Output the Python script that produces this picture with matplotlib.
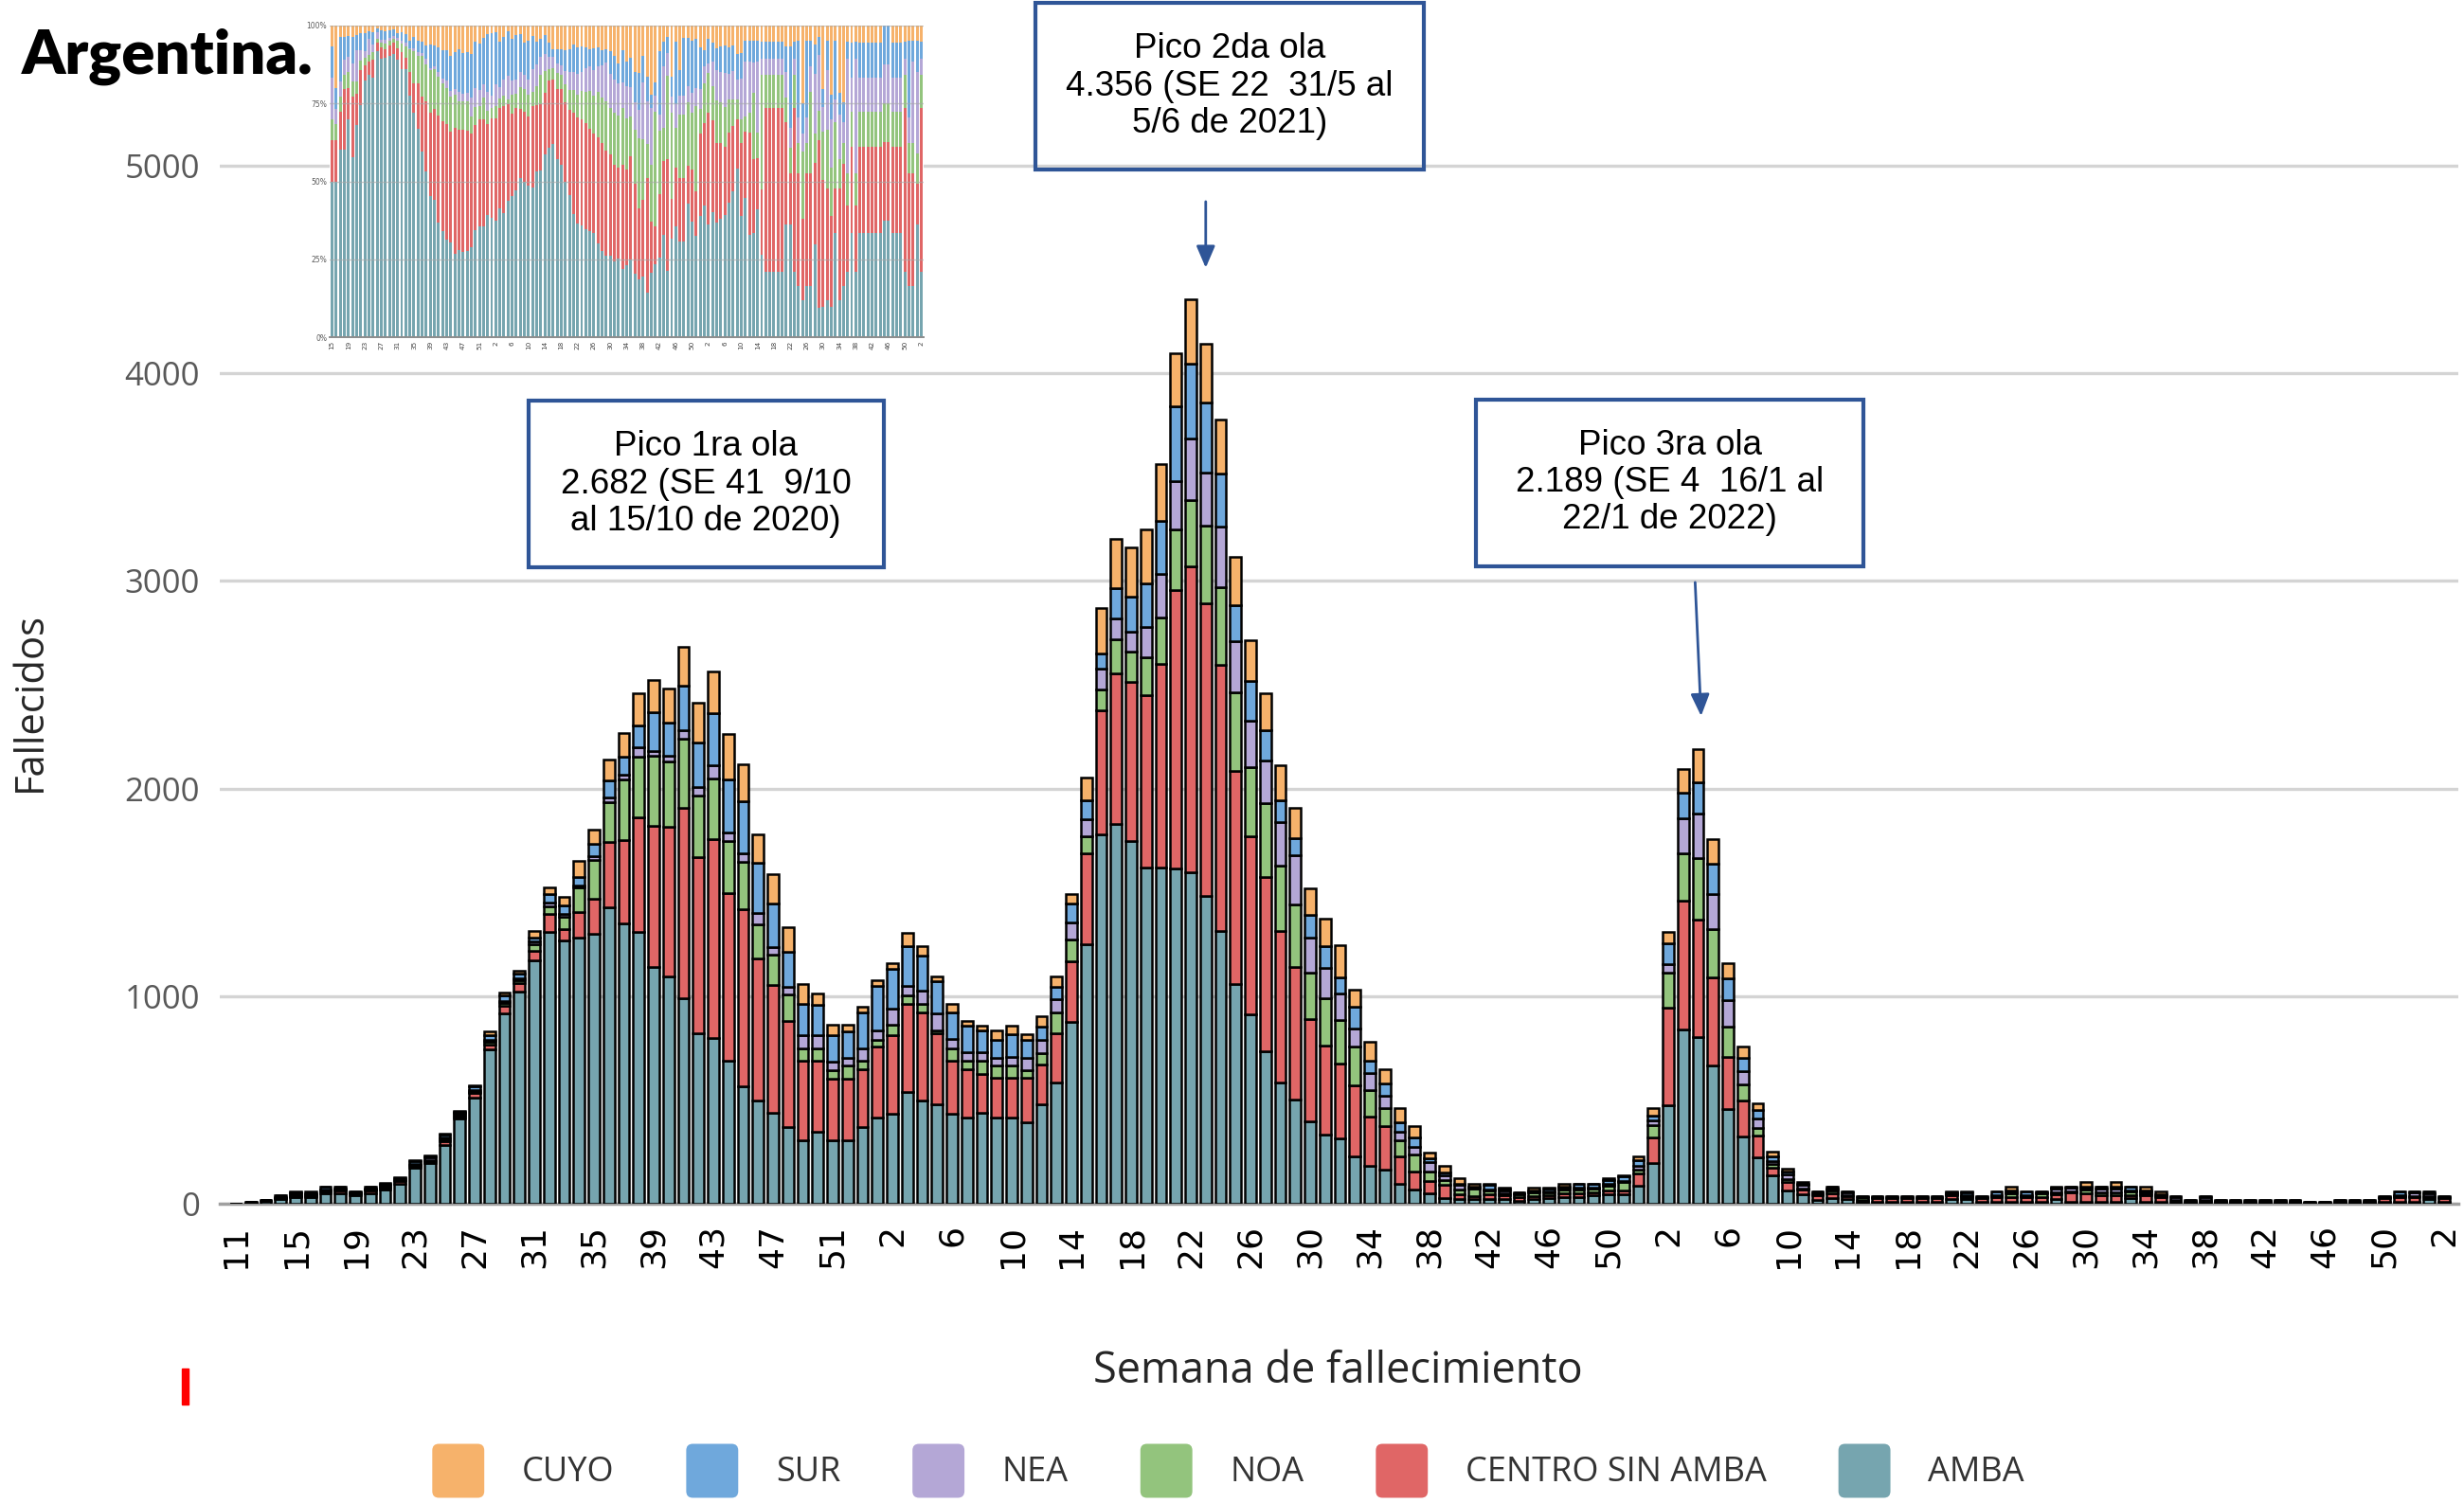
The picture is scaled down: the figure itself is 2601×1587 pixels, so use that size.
import matplotlib
matplotlib.use('Agg')
import matplotlib.pyplot as plt
from matplotlib.patches import Rectangle, Patch, FancyBboxPatch
from matplotlib.legend_handler import HandlerPatch
import numpy as np

# ---------------- categories (epidemiological weeks) ----------------
weeks = ([str(w) for w in range(11, 54)] +      # 2020: SE 11-53
         [str(w) for w in range(1, 53)] +       # 2021: SE 1-52
         [str(w) for w in range(1, 53)] +       # 2022: SE 1-52
         ['1', '2'])                            # 2023: SE 1-2

# ---------------- weekly deaths by region ----------------
amba = [2, 6, 12, 22, 30, 30, 50, 50, 42, 48, 68, 94, 173, 196, 282, 409, 512, 744, 917, 1021,
        1171, 1310, 1270, 1281, 1300, 1429, 1350, 1310, 1140, 1095, 990, 820, 800, 690, 565, 498, 436, 368, 305, 347,
        306, 306, 370,
        413, 434, 540, 496, 479, 435, 415, 436, 416, 416, 393, 480, 584, 876, 1250, 1780, 1830, 1745, 1620, 1620,
        1615, 1595, 1484, 1312, 1060, 911, 736, 585, 500, 396, 333, 315, 226, 181, 162, 94, 70, 48, 26, 25,
        23, 25, 25, 12, 25, 28, 30, 30, 42, 45, 45, 88,
        195, 475, 838, 805, 666, 455, 325, 225, 135, 66, 46, 20, 28, 25, 10, 8, 8, 8, 8, 8,
        22, 22, 8, 10, 10, 10, 10, 25, 8, 10, 10, 10, 28, 10, 10, 8, 6, 8, 6, 6,
        6, 6, 6, 6, 3, 3, 6, 6, 6, 8, 10, 10,
        22, 8]
centro = [0, 1, 3, 5, 8, 8, 10, 16, 6, 16, 10, 14, 10, 10, 20, 12, 20, 22, 36, 40,
          45, 85, 55, 125, 168, 315, 400, 550, 680, 722, 915, 850, 955, 805, 855, 685, 620, 512, 385, 342,
          297, 297, 278,
          342, 380, 422, 426, 340, 255, 235, 190, 190, 190, 213, 190, 235, 292, 440, 595, 725, 770, 830, 980,
          1340, 1475, 1407, 1283, 1025, 860, 838, 728, 642, 492, 427, 362, 342, 237, 214, 133, 85, 60, 67, 20,
          12, 20, 18, 20, 10, 15, 20, 20, 12, 20, 20, 60,
          123, 470, 620, 562, 426, 254, 170, 102, 40, 40, 22, 20, 20, 10, 8, 20, 20, 20, 20, 20,
          20, 10, 20, 22, 22, 22, 22, 22, 45, 42, 30, 30, 12, 30, 24, 8, 5, 8, 5, 5,
          5, 5, 5, 5, 2, 2, 5, 5, 5, 20, 22, 22,
          8, 20]
noa = [0, 0, 1, 2, 4, 3, 4, 4, 3, 4, 4, 4, 5, 5, 8, 6, 8, 14, 14, 14,
       32, 38, 55, 118, 188, 190, 295, 295, 338, 315, 335, 295, 295, 252, 225, 162, 142, 126, 60, 59,
       39, 61, 39,
       36, 46, 40, 39, 15, 59, 39, 62, 61, 61, 39, 57, 103, 104, 80, 104, 162, 143, 183, 223,
       292, 320, 377, 377, 377, 330, 357, 314, 301, 227, 229, 207, 188, 128, 83, 79, 84, 48, 20, 22,
       36, 20, 8, 15, 22, 10, 20, 20, 20, 22, 38, 18,
       59, 168, 229, 298, 232, 146, 82, 40, 16, 13, 5, 4, 18, 5, 14, 4, 4, 4, 4, 4,
       5, 5, 4, 6, 18, 6, 16, 8, 8, 16, 16, 16, 18, 8, 4, 4, 2, 4, 2, 2,
       2, 2, 2, 2, 1, 1, 2, 2, 2, 4, 6, 6,
       6, 4]
nea = [0, 0, 1, 2, 8, 3, 4, 4, 3, 5, 10, 4, 5, 12, 8, 10, 6, 10, 10, 10,
       15, 18, 18, 10, 17, 22, 22, 42, 22, 24, 40, 40, 64, 40, 42, 54, 40, 39, 62, 62,
       43, 37, 59,
       43, 81, 46, 66, 84, 43, 40, 40, 37, 40, 59, 62, 62, 82, 80, 100, 100, 96, 145, 209,
       232, 296, 255, 289, 249, 227, 206, 213, 234, 168, 147, 128, 86, 82, 61, 41, 34, 44, 25, 22,
       5, 5, 15, 4, 4, 6, 6, 6, 5, 8, 8, 15,
       25, 39, 168, 213, 169, 128, 62, 44, 16, 22, 18, 10, 8, 14, 2, 2, 2, 2, 2, 2,
       5, 4, 2, 5, 5, 5, 5, 16, 15, 8, 16, 16, 6, 12, 4, 14, 2, 14, 2, 2,
       2, 2, 2, 2, 1, 1, 2, 2, 2, 2, 5, 16,
       16, 2]
sur = [0, 1, 2, 8, 6, 4, 12, 6, 4, 7, 5, 7, 12, 6, 14, 5, 18, 24, 25, 25,
       20, 40, 40, 40, 62, 82, 85, 108, 186, 162, 215, 215, 250, 255, 253, 245, 210, 170, 150, 150,
       129, 130, 174,
       215, 192, 191, 170, 155, 128, 127, 105, 86, 108, 86, 66, 62, 91, 95, 72, 148, 168, 212, 255,
       362, 360, 335, 256, 174, 190, 146, 102, 82, 108, 106, 80, 105, 60, 61, 44, 45, 21, 14, 5,
       4, 20, 6, 3, 5, 16, 8, 18, 15, 20, 22, 30,
       24, 104, 127, 151, 146, 103, 64, 40, 20, 14, 7, 4, 6, 4, 2, 2, 2, 2, 2, 2,
       5, 16, 2, 15, 8, 15, 5, 8, 5, 6, 8, 8, 16, 6, 4, 2, 2, 2, 2, 2,
       2, 2, 2, 2, 1, 1, 2, 2, 2, 2, 15, 4,
       6, 2]
cuyo = [0, 0, 1, 1, 4, 12, 3, 3, 2, 3, 3, 3, 5, 4, 7, 4, 8, 15, 15, 14,
        30, 32, 40, 78, 67, 103, 115, 156, 156, 162, 187, 194, 201, 222, 177, 134, 138, 115, 96, 52,
        50, 33, 27,
        27, 26, 67, 45, 21, 42, 26, 23, 46, 41, 28, 46, 48, 45, 110, 217, 239, 239, 257, 276,
        254, 310, 283, 262, 233, 198, 174, 170, 146, 126, 132, 152, 82, 91, 66, 69, 57, 24, 30, 27,
        18, 8, 4, 2, 13, 4, 14, 4, 4, 6, 6, 16,
        36, 55, 112, 160, 116, 73, 52, 31, 23, 15, 5, 3, 4, 3, 2, 2, 2, 2, 2, 2,
        4, 4, 2, 3, 21, 3, 3, 5, 3, 21, 4, 23, 4, 18, 15, 2, 1, 2, 1, 1,
        1, 1, 1, 1, 0, 0, 1, 1, 1, 2, 3, 3,
        3, 2]

region_names = ['AMBA', 'CENTRO SIN AMBA', 'NOA', 'NEA', 'SUR', 'CUYO']
region_values = [amba, centro, noa, nea, sur, cuyo]
region_colors = ['#76a5af', '#e06666', '#93c47d', '#b4a7d6', '#6fa8dc', '#f6b26b']

yticks = [0, 1000, 2000, 3000, 4000, 5000]
pct_ticks = [0, 0.25, 0.5, 0.75, 1.0]
pct_labels = ['0%', '25%', '50%', '75%', '100%']

notes = [
    ('Pico 1ra ola\n2.682 (SE 41  9/10\nal 15/10 de 2020)', 31.5, 3467, 23.8),
    ('Pico 2da ola\n4.356 (SE 22  31/5 al\n5/6 de 2021)', 66.6, 5383, 26.0),
    ('Pico 3ra ola\n2.189 (SE 4  16/1 al\n22/1 de 2022)', 96.1, 3472, 26.0),
]

# ---------------- figure ----------------
W, H = 2601, 1587
fig = plt.figure(figsize=(W / 100, H / 100), dpi=100)
ax = fig.add_axes([232 / W, 1 - 1271 / H, 2363 / W, (1271 - 164) / H])

x = np.arange(len(weeks))
bottom = np.zeros(len(weeks))
for name, vals, col in zip(region_names, region_values, region_colors):
    v = np.array(vals, dtype=float)
    ax.bar(x, v, width=0.74, bottom=bottom, color=col, edgecolor='black',
           linewidth=1.8, zorder=3, label=name)
    bottom += v

ax.set_xlim(-1.08, len(weeks) - 0.05)
ax.set_ylim(0, 5050)
ax.set_yticks(yticks)
ax.set_yticklabels([str(t) for t in yticks])
ax.yaxis.grid(True, color='#d4d4d4', linewidth=2.4, zorder=0)
ax.set_axisbelow(True)
for s in ['top', 'right', 'left']:
    ax.spines[s].set_visible(False)
ax.spines['bottom'].set_color('#a0a0a0')
ax.spines['bottom'].set_linewidth(2.5)

ax.tick_params(axis='y', length=0, pad=15, labelsize=25, labelcolor='#595959')
for lbl in ax.get_yticklabels():
    lbl.set_fontfamily('Open Sans')
ax.set_xticks(x[::4])
ax.set_xticklabels(weeks[::4], rotation=90, fontsize=26, family='DejaVu Sans')
ax.tick_params(axis='x', length=0, pad=16)

# annotation boxes
box_color = '#2f5597'
for text, cx, cy, w in notes:
    h = 800
    ax.add_patch(Rectangle((cx - w / 2, cy - h / 2), w, h, fill=False, ec=box_color,
                           lw=3, clip_on=False, zorder=6))
    ax.text(cx, cy, text, ha='center', va='center', fontsize=26.5, family='Liberation Sans',
            linespacing=1.15, clip_on=False, zorder=7)

arrow_kw = dict(arrowstyle='-|>,head_length=0.7,head_width=0.3', color=box_color, lw=2,
                mutation_scale=20, shrinkA=0, shrinkB=0)
ax.annotate('', xy=(65.0, 4508), xytext=(65.0, 4827), arrowprops=arrow_kw,
            annotation_clip=False)
ax.annotate('', xy=(98.2, 2349), xytext=(97.8, 2993), arrowprops=arrow_kw,
            annotation_clip=False)

# axis titles
fig.text(32 / W, 1 - 741 / H, 'Fallecidos', rotation=90, ha='center', va='center',
         fontsize=30, family='Open Sans', color='#262626')
fig.text(1412 / W, 1 - 1448 / H, 'Semana de fallecimiento', ha='center', va='center',
         fontsize=32.5, family='Open Sans', color='#262626')

# title
fig.text(23 / W, 1 - 60 / H, 'Argentina.', ha='left', va='center', fontsize=47,
         fontweight='heavy', family='Lato', color='black')

# red mark
fig.patches.append(Rectangle((192 / W, 1 - 1483 / H), 7 / W, 38 / H,
                             transform=fig.transFigure, color='#ff0000', zorder=5))


# legend with rounded square swatches
def rounded_patch(legend, orig_handle, xdescent, ydescent, width, height, fontsize):
    return FancyBboxPatch((-xdescent, -ydescent), width, height,
                          boxstyle='round,pad=0,rounding_size=5')


order = [5, 4, 3, 2, 1, 0]
handles = [Patch(facecolor=region_colors[i], edgecolor='none') for i in order]
labels = [region_names[i] for i in order]
fig.legend(handles, labels, loc='center', bbox_to_anchor=(0.4985, 1 - 1553 / H), ncol=6,
           frameon=False, prop={'family': 'Open Sans', 'size': 26}, labelcolor='#333333',
           handlelength=1.52, handleheight=2.05, handletextpad=1.1, columnspacing=2.1,
           handler_map={Patch: HandlerPatch(patch_func=rounded_patch)})

# ---------------- inset: share by region ----------------
axi = fig.add_axes([348 / W, 1 - 356 / H, 627 / W, 329 / H])
total = np.sum([np.array(v, dtype=float) for v in region_values], axis=0)
xi = x[4:]
bot = np.zeros(len(xi))
for vals, col in zip(region_values, region_colors):
    share = np.array(vals, dtype=float)[4:] / total[4:]
    axi.bar(xi, share, width=0.68, bottom=bot, color=col, edgecolor='none', zorder=2)
    bot += share
axi.set_xlim(xi[0] - 0.6, xi[-1] + 0.6)
axi.set_ylim(0, 1)
axi.set_yticks(pct_ticks)
axi.set_yticklabels(pct_labels)
for yv in pct_ticks[1:]:
    axi.axhline(yv, color='#a8a8a8', lw=1.0, alpha=0.6, zorder=3)
for s in ['top', 'right', 'left']:
    axi.spines[s].set_visible(False)
axi.spines['bottom'].set_color('#8c8c8c')
axi.spines['bottom'].set_linewidth(1.4)
axi.set_xticks(xi[::4])
axi.set_xticklabels([weeks[i] for i in xi[::4]], rotation=90, fontsize=5.2, color='#404040')
axi.tick_params(axis='x', length=0, pad=3)
axi.tick_params(axis='y', length=0, pad=2, labelsize=5.5, labelcolor='#595959')

fig.savefig('out.png', dpi=100)
